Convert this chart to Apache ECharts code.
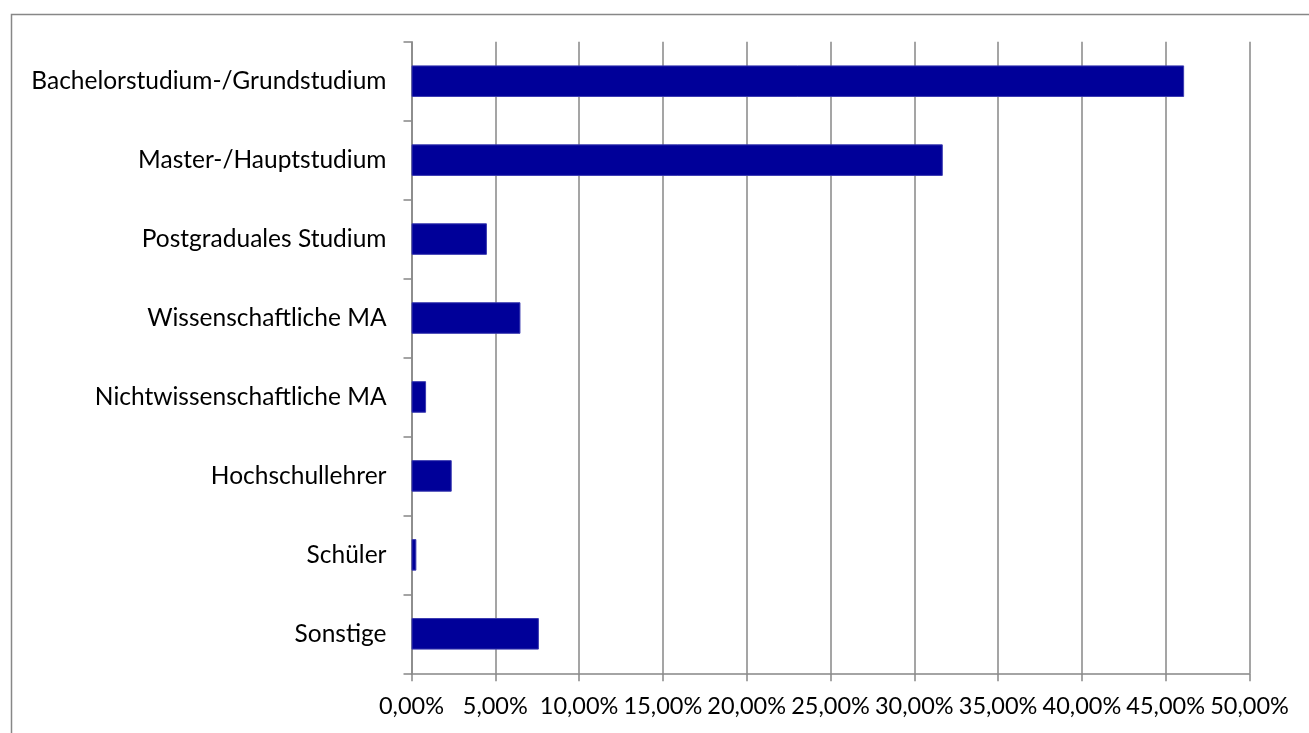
<!DOCTYPE html>
<html>
<head>
<meta charset="utf-8">
<script src="https://cdn.jsdelivr.net/npm/echarts@6/dist/echarts.min.js"></script>
<style>
html,body{margin:0;padding:0;background:#fff;}
#chart{width:1309px;height:733px;}
</style>
</head>
<body>
<div id="chart"></div>
<script>
const categories = [
  "Bachelorstudium-/Grundstudium",
  "Master-/Hauptstudium",
  "Postgraduales Studium",
  "Wissenschaftliche MA",
  "Nichtwissenschaftliche MA",
  "Hochschullehrer",
  "Schüler",
  "Sonstige"
];
const shares = [46.1, 31.7, 4.5, 6.5, 0.87, 2.4, 0.29, 7.6];
const axisMin = 0;
const axisMax = 50;
const axisStep = 5;

const FONT = "Lato, 'Open Sans', sans-serif";
const chart = echarts.init(document.getElementById('chart'), null, {renderer: 'canvas'});
chart.setOption({
  backgroundColor: '#ffffff',
  animation: false,
  graphic: [{
    type: 'rect',
    left: 9, top: 12,
    shape: {x: 0, y: 0, width: 1400, height: 800},
    style: {fill: 'none', stroke: '#878787', lineWidth: 1.5},
    silent: true
  }],
  grid: {left: 411.5, right: 59.5, top: 41.7, bottom: 59.7, containLabel: false},
  xAxis: {
    type: 'value',
    min: axisMin, max: axisMax, interval: axisStep,
    axisLine: {show: true, lineStyle: {color: '#878787', width: 1.5}},
    axisTick: {show: true, length: 8, lineStyle: {color: '#878787', width: 1.5}},
    splitLine: {show: true, lineStyle: {color: '#878787', width: 1.5}},
    axisLabel: {
      color: '#000', fontFamily: FONT, fontSize: 23.5, margin: 21,
      formatter: v => v.toFixed(2).replace('.', ',') + '%'
    }
  },
  yAxis: {
    type: 'category',
    data: categories,
    inverse: true,
    axisLine: {show: true, lineStyle: {color: '#878787', width: 1.5}},
    axisTick: {show: true, length: 8, lineStyle: {color: '#878787', width: 1.5}},
    splitLine: {show: false},
    axisLabel: {color: '#000', fontFamily: FONT, fontSize: 24.5, margin: 25}
  },
  series: [{
    type: 'bar',
    data: shares,
    barWidth: '40%',
    itemStyle: {color: '#000099', borderColor: '#3a3ab0', borderWidth: 1}
  }]
});
</script>
</body>
</html>
